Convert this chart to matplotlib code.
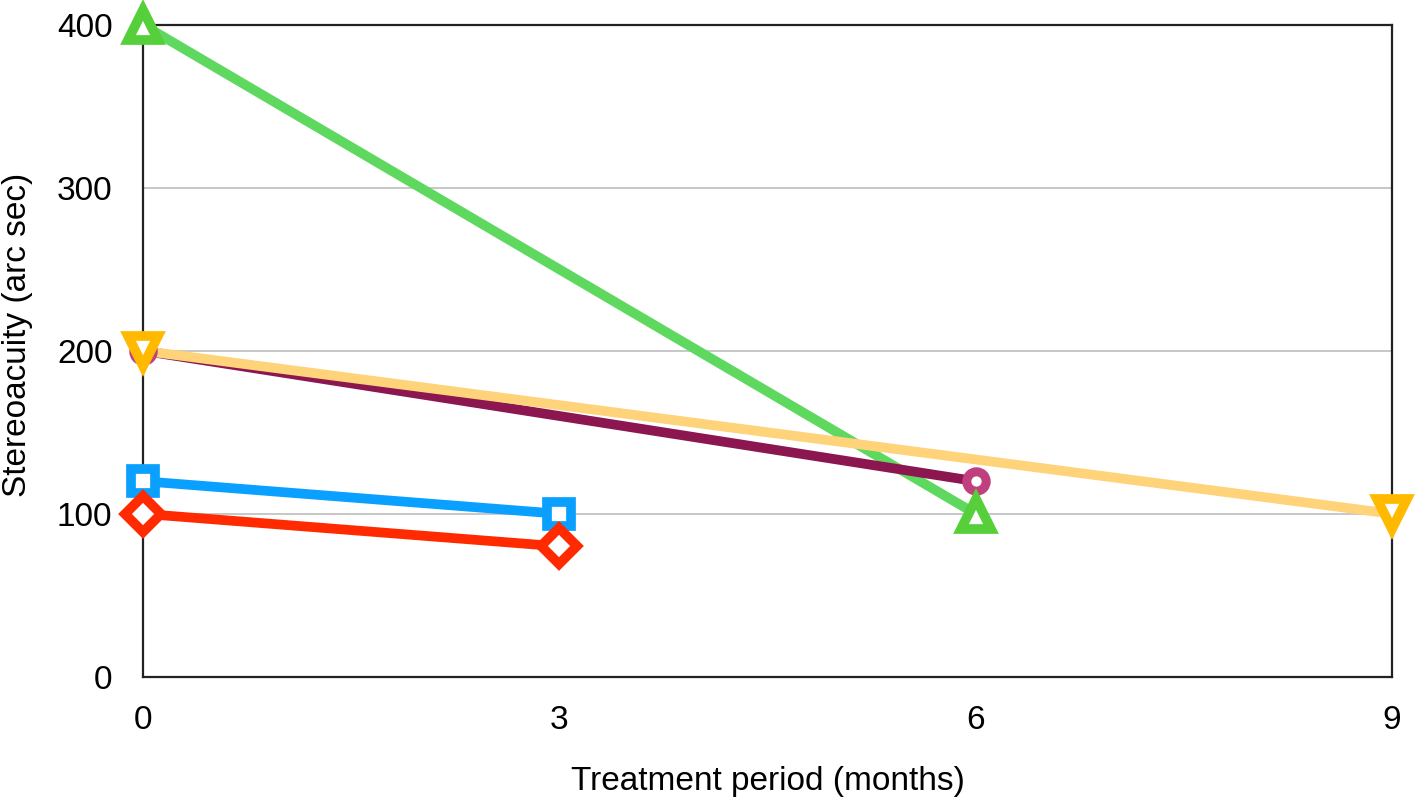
import numpy as np
import matplotlib.pyplot as plt

plt.rcParams['font.family'] = ['Liberation Sans', 'DejaVu Sans']

# months, stereoacuity (arc sec)
green_x = [0, 6]
green_y = [400, 100]
yellow_x = [0, 9]
yellow_y = [200, 100]
purple_x = [0, 6]
purple_y = [200, 120]
blue_x = [0, 3]
blue_y = [120, 100]
red_x = [0, 3]
red_y = [100, 80]

xticks = [0, 3, 6, 9]
yticks = [0, 100, 200, 300, 400]

fig = plt.figure(figsize=(14.16, 8), dpi=100)
ax = fig.add_axes([0.101, 0.154, 0.882, 0.815])

ax.set_xlim(0, 9)
ax.set_ylim(0, 400)
ax.set_xticks(xticks)
ax.set_yticks(yticks)
ax.yaxis.grid(True, color='#bdbdbd', linewidth=1.2)
ax.set_axisbelow(True)
ax.tick_params(length=0, labelsize=24)
ax.tick_params(axis='y', pad=22)
ax.tick_params(axis='x', pad=20)
for s in ax.spines.values():
    s.set_linewidth(1.6)
    s.set_color('#222222')

lw = 7
mew = 7
ax.plot(green_x, green_y, color='#5fd85f', lw=lw, solid_capstyle='butt', zorder=3)
ax.plot(purple_x, purple_y, color='#8b1650', lw=lw, solid_capstyle='butt', zorder=3)
ax.plot(yellow_x, yellow_y, color='#ffd37a', lw=lw, solid_capstyle='butt', zorder=3)
ax.plot(blue_x, blue_y, color='#0aa0ff', lw=lw, solid_capstyle='butt', zorder=3)
ax.plot(red_x, red_y, color='#ff2a00', lw=lw, solid_capstyle='butt', zorder=3)

ax.plot(purple_x, purple_y, 'o', ms=14, mfc='white', mec='#c0407f', mew=6.5, clip_on=False, zorder=4)
ax.plot(green_x, green_y, '^', ms=21, mfc='white', mec='#55d03a', mew=mew, clip_on=False, zorder=4)
ax.plot(yellow_x, yellow_y, 'v', ms=21, mfc='white', mec='#ffba00', mew=mew, clip_on=False, zorder=4)
ax.plot(blue_x, blue_y, 's', ms=17.5, mfc='white', mec='#0aa0ff', mew=mew, clip_on=False, zorder=4)
ax.plot(red_x, red_y, 'D', ms=18, mfc='white', mec='#ff2a00', mew=mew, clip_on=False, zorder=4)

ax.set_xlabel('Treatment period (months)', fontsize=24, labelpad=22)
fig.text(18 / 1416, 1 - 335 / 800, 'Stereoacuity (arc sec)', fontsize=24,
         rotation=90, ha='center', va='center')

plt.savefig('out.png', dpi=100)
